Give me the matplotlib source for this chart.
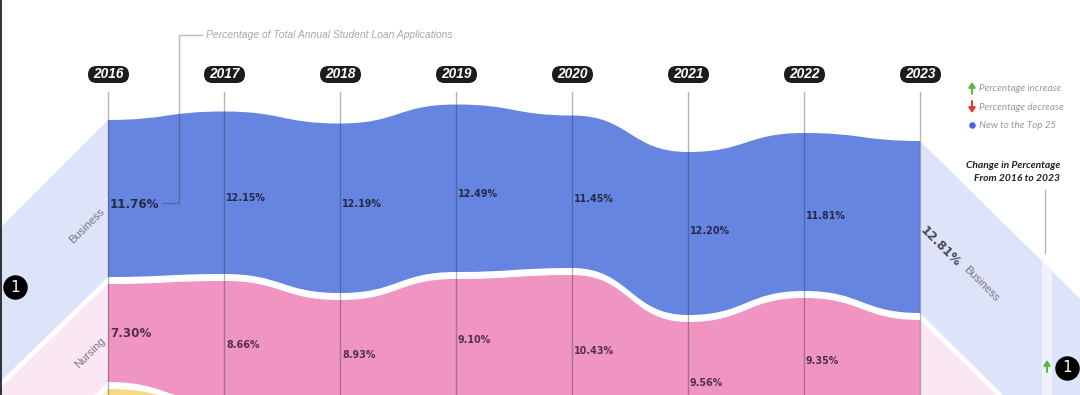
import matplotlib.pyplot as plt
from matplotlib.patches import FancyBboxPatch, PathPatch, Polygon, Rectangle
from matplotlib.path import Path

plt.rcParams['font.family'] = 'DejaVu Sans'

years = ['2016', '2017', '2018', '2019', '2020', '2021', '2022', '2023']
year_x = [108, 224, 340, 456, 572, 688, 804, 920]

# band edges (pixels from the top)
blue_top = [120, 111.5, 123.5, 104.5, 115.5, 152, 133, 141]
blue_bottom = [277, 274, 293, 272, 268, 315, 291, 313]
pink_top = [284, 281, 300, 279, 275, 322, 298, 320]
pink_bottom = [382, 402, 406, 399, 425, 442, 422, 430]
yellow_top = [389, 405, 413, 406, 432, 449, 429, 437]

# labels
business_pct = ['11.76%', '12.15%', '12.19%', '12.49%', '11.45%', '12.20%', '11.81%']
business_y = [205, 198, 204, 194, 199, 231.5, 216]
nursing_pct = ['7.30%', '8.66%', '8.93%', '9.10%', '10.43%', '9.56%', '9.35%']
nursing_y = [333.5, 344.5, 354.5, 340, 351, 383.5, 361]

BLUE = '#6585e0'
PINK = '#f094c2'
YELLOW = '#fbd985'
PALE_BLUE = '#dde3f8'
PALE_PINK = '#fbe6f3'
PALE_YELLOW = '#fcf0d0'


def curve(xs, ys):
    # horizontal tangents at each year, like the original ribbons
    verts = [(xs[0], ys[0])]
    codes = [Path.LINETO]
    for i in range(len(xs) - 1):
        mid = (xs[i] + xs[i + 1]) / 2
        verts += [(mid, ys[i]), (mid, ys[i + 1]), (xs[i + 1], ys[i + 1])]
        codes += [Path.CURVE4] * 3
    return verts, codes


def ribbon(ax, top, bottom, color):
    v1, c1 = curve(year_x, top)
    v2, c2 = curve(year_x[::-1], bottom[::-1])
    verts = v1 + v2 + [v1[0]]
    codes = [Path.MOVETO] + c1[1:] + c2 + [Path.CLOSEPOLY]
    ax.add_patch(PathPatch(Path(verts, codes), fc=color, ec='none', zorder=2))


fig = plt.figure(figsize=(10.8, 3.95), dpi=100)
ax = fig.add_axes([0, 0, 1, 1])
ax.set_xlim(0, 1080)
ax.set_ylim(395, 0)
ax.axis('off')

# pale wedges left of 2016
x0, x1 = year_x[0], year_x[-1]
for top, bottom, color, drop in [(blue_top, blue_bottom, PALE_BLUE, 200),
                                 (pink_top, pink_bottom, PALE_PINK, 194),
                                 (yellow_top, [500] * 8, PALE_YELLOW, 194)]:
    ax.add_patch(Polygon([(x0, top[0]), (x0 - 200, top[0] + drop),
                          (x0 - 200, bottom[0] + 194), (x0, bottom[0])],
                         fc=color, ec='none', zorder=1))

# pale wedges right of 2023
right_blue = Polygon([(x1, blue_top[-1]), (x1 + 200, blue_top[-1] + 197),
                      (x1 + 200, blue_bottom[-1] + 197), (x1, blue_bottom[-1])],
                     fc=PALE_BLUE, ec='none', zorder=1)
ax.add_patch(right_blue)
ax.add_patch(Polygon([(x1, pink_top[-1]), (x1 + 200, pink_top[-1] + 197),
                      (x1 + 200, pink_bottom[-1] + 197), (x1, pink_bottom[-1])],
                     fc=PALE_PINK, ec='none', zorder=1))
stripe = Rectangle((1042, 0), 10, 395, fc='#eef2fd', ec='none', zorder=1.5)
ax.add_patch(stripe)
stripe.set_clip_path(right_blue)

ribbon(ax, blue_top, blue_bottom, BLUE)
ribbon(ax, pink_top, pink_bottom, PINK)
ribbon(ax, yellow_top, [500] * 8, YELLOW)

# year lines and pills
for x, year in zip(year_x, years):
    ax.plot([x, x], [92, 395], color='#303040', alpha=0.36, lw=1, zorder=3)
    ax.add_patch(FancyBboxPatch((x - 20, 66), 41, 17, boxstyle='round,pad=0,rounding_size=8.5',
                                fc='#1c1c1c', ec='none', zorder=4))
    ax.text(x + 0.5, 74.5, year, color='white', fontsize=9.8, family='Liberation Sans',
            weight='bold', style='italic', ha='center', va='center', zorder=5)

# percentages
for i, (pct, y) in enumerate(zip(business_pct, business_y)):
    size = 8.6 if i == 0 else 6.9
    ax.text(year_x[i] + 2, y, pct, fontsize=size, weight='bold', color='#262a48',
            ha='left', va='center', zorder=5)
for i, (pct, y) in enumerate(zip(nursing_pct, nursing_y)):
    size = 8.6 if i == 0 else 6.9
    ax.text(year_x[i] + 2, y, pct, fontsize=size, weight='bold', color='#54304a',
            ha='left', va='center', zorder=5)
ax.text(922, 229, '12.81%', fontsize=8.8, weight='bold', color='#4a4a55', rotation=-45,
        rotation_mode='anchor', ha='left', va='center', zorder=5)

# category names on the wedges
ax.text(87, 226, 'Business', fontsize=8, color='#77777c', family='Liberation Sans',
        rotation=45, ha='center', va='center', zorder=5)
ax.text(90, 353, 'Nursing', fontsize=8, color='#77777c', family='Liberation Sans',
        rotation=45, ha='center', va='center', zorder=5)
ax.text(981, 284, 'Business', fontsize=8, color='#77777c', family='Liberation Sans',
        rotation=-45, ha='center', va='center', zorder=5)

# leader from the 2016 value up to the note
ax.plot([163, 178.5, 178.5, 202], [203, 203, 35, 35], color='#303040', alpha=0.34, lw=1,
        zorder=3)
ax.text(206, 35.5, 'Percentage of Total Annual Student Loan Applications', fontsize=7.44,
        color='#a8a8a8', family='Liberation Sans', style='italic', ha='left', va='center')

# legend
ax.annotate('', xy=(972, 82), xytext=(972, 94),
            arrowprops=dict(arrowstyle='-|>,head_width=0.2,head_length=0.3', color='#58b83c',
                            lw=1.4, shrinkA=0, shrinkB=0))
ax.annotate('', xy=(972, 113), xytext=(972, 101),
            arrowprops=dict(arrowstyle='-|>,head_width=0.2,head_length=0.3', color='#e8342a',
                            lw=1.4, shrinkA=0, shrinkB=0))
ax.scatter([972], [125], s=22, color='#4a5ff0', linewidths=0, zorder=5)
ax.text(979, 88.5, 'Percentage increase', fontsize=7.1, color='#999999', family='Lato',
        style='italic', ha='left', va='center')
ax.text(979, 107, 'Percentage decrease', fontsize=7.1, color='#999999', family='Lato',
        style='italic', ha='left', va='center')
ax.text(979, 125.5, 'New to the Top 25', fontsize=7.1, color='#999999', family='Lato',
        style='italic', ha='left', va='center')

ax.text(1060, 166, 'Change in Percentage', fontsize=7.4, color='#1e1e1e', family='Lato',
        weight='bold', style='italic', ha='right', va='center')
ax.text(1060, 178.5, 'From 2016 to 2023', fontsize=7.4, color='#1e1e1e', family='Lato',
        weight='bold', style='italic', ha='right', va='center')
ax.plot([1044.5, 1044.5], [190, 253], color='#b5b5b5', lw=1, zorder=3)

# rank badges and change arrow
for x, y in [(15, 287), (1067, 368)]:
    ax.scatter([x], [y], s=310, color='black', linewidths=0, zorder=5)
    ax.text(x, y, '1', fontsize=11, color='white', ha='center', va='center', zorder=6)
ax.annotate('', xy=(1047, 360), xytext=(1047, 372),
            arrowprops=dict(arrowstyle='-|>,head_width=0.2,head_length=0.3', color='#58b83c',
                            lw=1.4, shrinkA=0, shrinkB=0), zorder=5)

# dark edge on the far left
ax.plot([0.5, 0.5], [0, 395], color='#111111', lw=1.2, zorder=6)

fig.savefig('out.png', dpi=100, facecolor='white')
